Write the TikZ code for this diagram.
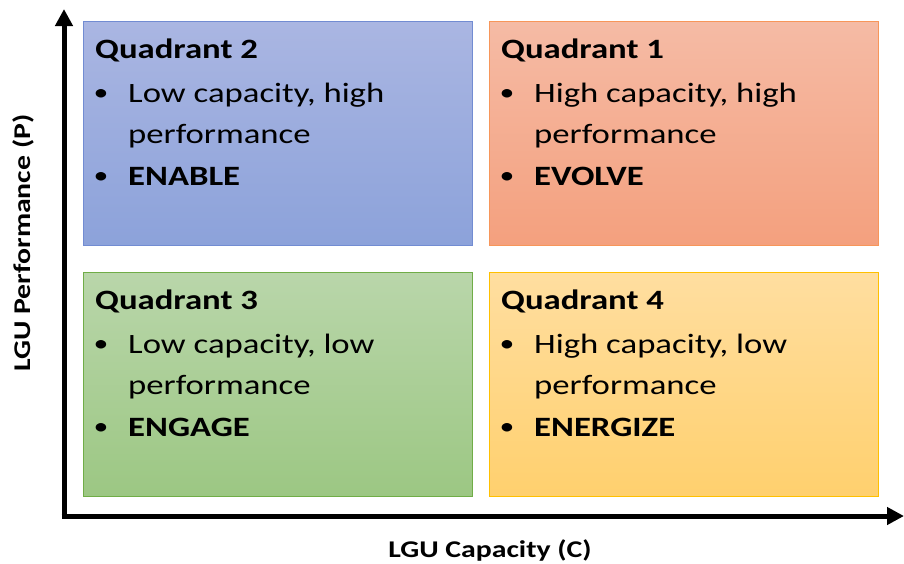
\documentclass[tikz,border=0pt]{standalone}
\usepackage{fontspec}
\setmainfont[FakeStretch=1.24]{Carlito}
\usetikzlibrary{arrows.meta}
\definecolor{qbtop}{RGB}{170,182,226}
\definecolor{qbbot}{RGB}{140,162,218}
\definecolor{qbdraw}{RGB}{114,140,210}
\definecolor{qotop}{RGB}{245,187,165}
\definecolor{qobot}{RGB}{244,160,126}
\definecolor{qodraw}{RGB}{247,150,90}
\definecolor{qgtop}{RGB}{185,214,170}
\definecolor{qgbot}{RGB}{156,199,131}
\definecolor{qgdraw}{RGB}{112,173,71}
\definecolor{qytop}{RGB}{255,222,160}
\definecolor{qybot}{RGB}{255,208,110}
\definecolor{qydraw}{RGB}{255,192,0}
\tikzset{
  quadbox/.style={minimum width=389pt, minimum height=224pt, inner sep=0pt, line width=1pt},
  title/.style={anchor=base west, font=\fontsize{28}{28}\selectfont\bfseries, inner sep=0pt},
  itemtxt/.style={anchor=base west, font=\fontsize{28}{28}\selectfont, inner sep=0pt},
  itembold/.style={anchor=base west, font=\fontsize{28}{28}\selectfont\bfseries, inner sep=0pt},
  bul/.style={anchor=base, font=\fontsize{24}{24}\selectfont, inner sep=0pt},
  axis/.style={line width=5pt, -{Triangle[length=17pt,width=17pt]}},
  axlabel/.style={font=\fontsize{24}{24}\selectfont\bfseries, inner sep=0pt}
}
\begin{document}
\begin{tikzpicture}[x=1pt,y=-1pt]
\useasboundingbox (0,0) rectangle (904,563);
% boxes
\node[quadbox, draw=qbdraw, top color=qbtop, bottom color=qbbot, anchor=north west] (q2) at (83,21) {};
\node[quadbox, draw=qodraw, top color=qotop, bottom color=qobot, anchor=north west] (q1) at (489,21) {};
\node[quadbox, draw=qgdraw, top color=qgtop, bottom color=qgbot, anchor=north west] (q3) at (83,272) {};
\node[quadbox, draw=qydraw, top color=qytop, bottom color=qybot, anchor=north west] (q4) at (489,272) {};
% texts Q2
\node[title] (t2) at (95,58) {Quadrant 2};
\node[bul] (b2a) at (101,100) {•};
\node[itemtxt] (l2a) at (128,102) {Low capacity, high};
\node[itemtxt] (l2b) at (128,143) {performance};
\node[bul] (b2b) at (101,183) {•};
\node[itembold] (l2c) at (128,185) {ENABLE};
% texts Q1
\node[title] (t1) at (501,58) {Quadrant 1};
\node[bul] (b1a) at (507,100) {•};
\node[itemtxt] (l1a) at (534,102) {High capacity, high};
\node[itemtxt] (l1b) at (534,143) {performance};
\node[bul] (b1b) at (507,183) {•};
\node[itembold] (l1c) at (534,185) {EVOLVE};
% texts Q3
\node[title] (t3) at (95,309) {Quadrant 3};
\node[bul] (b3a) at (101,351) {•};
\node[itemtxt] (l3a) at (128,353) {Low capacity, low};
\node[itemtxt] (l3b) at (128,394) {performance};
\node[bul] (b3b) at (101,434) {•};
\node[itembold] (l3c) at (128,436) {ENGAGE};
% texts Q4
\node[title] (t4) at (501,309) {Quadrant 4};
\node[bul] (b4a) at (507,351) {•};
\node[itemtxt] (l4a) at (534,353) {High capacity, low};
\node[itemtxt] (l4b) at (534,394) {performance};
\node[bul] (b4b) at (507,434) {•};
\node[itembold] (l4c) at (534,436) {ENERGIZE};
% axes
\coordinate (origin) at (64,516);
\coordinate (ytip) at (64,9);
\coordinate (xtip) at (904,516);
\draw[axis] ([yshift=2.5pt]origin) -- (ytip);
\draw[axis] ([xshift=-2.5pt]origin) -- (xtip);
\node[axlabel, anchor=base] (xl) at (490,557) {LGU Capacity (C)};
\node[axlabel, anchor=base, rotate=90] (yl) at (30,243) {LGU Performance (P)};
\end{tikzpicture}
\end{document}
